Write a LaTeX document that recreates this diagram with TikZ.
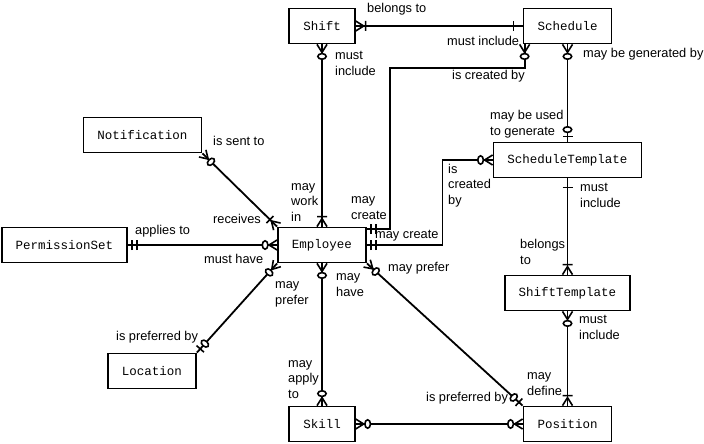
\documentclass[tikz,border=0pt]{standalone}
\usepackage{fontspec}
\setmainfont{Liberation Sans}
\newfontfamily\boxfont{Liberation Mono}
\usetikzlibrary{positioning, calc}

\tikzset{
  entity/.style={draw, line width=1.8pt, fill=white, inner xsep=14pt, inner ysep=0pt,
    minimum height=35pt, font=\boxfont\fontsize{12.5}{15}\selectfont},
  rel/.style={line width=1.8pt},
  marker/.style={line width=1.6pt},
  lbl/.style={inner sep=0pt, align=left, anchor=base west, font=\fontsize{12.8}{15.5}\selectfont},
  % crow's foot ends, x axis pointing away from the box
  pics/zmany/.style={code={
    \draw[marker] (8pt,0pt) -- (0pt,5pt) (8pt,0pt) -- (0pt,-5pt);
    \draw[marker, fill=white] (12pt,0pt) ellipse [x radius=2.8pt, y radius=4.2pt];
  }},
  pics/omany/.style={code={
    \draw[marker] (8pt,0pt) -- (0pt,5pt) (8pt,0pt) -- (0pt,-5pt) (10pt,-5pt) -- (10pt,5pt);
  }},
  pics/zone/.style={code={
    \draw[marker] (5pt,-5pt) -- (5pt,5pt);
    \draw[marker, fill=white] (12pt,0pt) ellipse [x radius=2.8pt, y radius=4.2pt];
  }},
  pics/oone/.style={code={
    \draw[marker] (4pt,-5pt) -- (4pt,5pt) (9pt,-5pt) -- (9pt,5pt);
  }},
  pics/one/.style={code={
    \draw[marker] (9pt,-5pt) -- (9pt,5pt);
  }}
}

\begin{document}
\begin{tikzpicture}[x=1pt, y=-1pt]
  \useasboundingbox (0,0) rectangle (704,444);

  % entities
  \node[entity] (shift) at (322,26) {Shift};
  \node[entity] (sched) at (567.5,26) {Schedule};
  \node[entity] (notif) at (142.5,135) {Notification};
  \node[entity] (perm) at (64.5,245) {PermissionSet};
  \node[entity] (emp) at (322,245) {Employee};
  \node[entity] (stmpl) at (567.5,160) {ScheduleTemplate};
  \node[entity] (shtmpl) at (567.5,293) {ShiftTemplate};
  \node[entity] (loc) at (152,371) {Location};
  \node[entity] (skill) at (322,424) {Skill};
  \node[entity] (pos) at (567.5,424) {Position};

  \coordinate (schedA) at ([xshift=2pt]sched.south west);
  \coordinate (empA) at ([yshift=-2pt]emp.north east);

  % relationships
  \draw[rel] (shift.east) -- (sched.west);
  \draw[rel] (shift.south) -- (emp.north);
  \draw[rel] (schedA) -- ++(0,24) -| ($(empA)+(23,0)$) -- (empA);
  \draw[rel] (stmpl.west) -- ++(-50,0) |- (emp.east);
  \draw[rel] (sched.south) -- (stmpl.north);
  \draw[rel] (stmpl.south) -- (shtmpl.north);
  \draw[rel] (shtmpl.south) -- (pos.north);
  \draw[rel] (skill.east) -- (pos.west);
  \draw[rel] (emp.south east) -- (pos.north west);
  \draw[rel] (emp.south) -- (skill.north);
  \draw[rel] (emp.south west) -- (loc.north east);
  \draw[rel] (perm.east) -- (emp.west);
  \draw[rel] (notif.south east) -- (emp.north west);

  % cardinalities
  \pic[rotate=0] at (shift.east) {omany};
  \pic[rotate=180] at (sched.west) {one};
  \pic[rotate=-90] at (shift.south) {zmany};
  \pic[rotate=90] at (emp.north) {omany};
  \pic[rotate=-90] at (schedA) {zmany};
  \pic[rotate=0] at (empA) {oone};
  \pic[rotate=180] at (stmpl.west) {zmany};
  \pic[rotate=0] at (emp.east) {oone};
  \pic[rotate=-90] at (sched.south) {zmany};
  \pic[rotate=90] at (stmpl.north) {zone};
  \pic[rotate=-90] at (stmpl.south) {one};
  \pic[rotate=90] at (shtmpl.north) {omany};
  \pic[rotate=-90] at (shtmpl.south) {zmany};
  \pic[rotate=90] at (pos.north) {omany};
  \pic[rotate=0] at (skill.east) {zmany};
  \pic[rotate=180] at (pos.west) {zmany};
  \pic[rotate=-42.6] at (emp.south east) {zmany};
  \pic[rotate=137.4] at (pos.north west) {zone};
  \pic[rotate=-90] at (emp.south) {zmany};
  \pic[rotate=90] at (skill.north) {zmany};
  \pic[rotate=228.4] at (emp.south west) {zmany};
  \pic[rotate=48.4] at (loc.north east) {zone};
  \pic[rotate=0] at (perm.east) {oone};
  \pic[rotate=180] at (emp.west) {zmany};
  \pic[rotate=-44.6] at (notif.south east) {zmany};
  \pic[rotate=135.4] at (emp.north west) {omany};

  % labels
  \node[lbl] (l-belongs) at (367,13) {belongs to};
  \node[lbl] (l-inclsched) at (447,46) {must include};
  \node[lbl] (l-inclshift) at (335,75) {must\\include};
  \node[lbl] (l-createdby) at (452,80) {is created by};
  \node[lbl] (l-generated) at (583,58) {may be generated by};
  \node[lbl] (l-used) at (490,135) {may be used\\to generate};
  \node[lbl] (l-tcreated) at (448,204) {is\\created\\by};
  \node[lbl] (l-inclstmpl) at (580,207) {must\\include};
  \node[lbl] (l-tcreate) at (375,238) {may create};
  \node[lbl] (l-belongsto) at (520,264) {belongs\\to};
  \node[lbl] (l-sentto) at (213,145) {is sent to};
  \node[lbl] (l-receives) at (213,223) {receives};
  \node[lbl] (l-applies) at (135,234) {applies to};
  \node[lbl] (l-musthave) at (204,263) {must have};
  \node[lbl] (l-workin) at (291,221) {may\\work\\in};
  \node[lbl] (l-create) at (351,219) {may\\create};
  \node[lbl] (l-preferpos) at (388,271) {may prefer};
  \node[lbl] (l-mayhave) at (336,296) {may\\have};
  \node[lbl] (l-preferloc) at (275,304) {may\\prefer};
  \node[lbl] (l-prefbyloc) at (116,340) {is preferred by};
  \node[lbl] (l-apply) at (288,398) {may\\apply\\to};
  \node[lbl] (l-inclshtmpl) at (579,339) {must\\include};
  \node[lbl] (l-define) at (527,395) {may\\define};
  \node[lbl] (l-prefbypos) at (426,401) {is preferred by};
\end{tikzpicture}
\end{document}
